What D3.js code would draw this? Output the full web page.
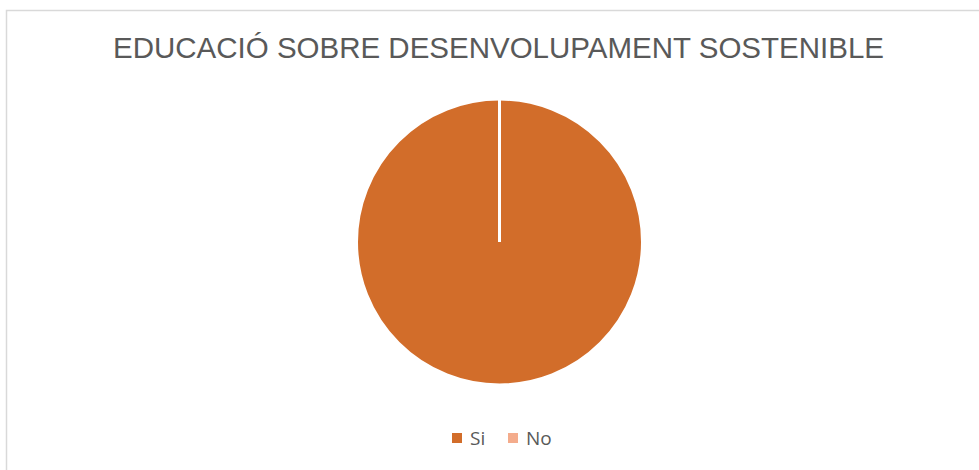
<!DOCTYPE html>
<html>
<head>
<meta charset="utf-8">
<script src="https://cdn.jsdelivr.net/npm/d3@7"></script>
<style>
  body { margin: 0; background: #fff; }
  svg { display: block; }
</style>
</head>
<body>
<svg class="chart"></svg>
<script>
const graphWidth = 979;
const graphHeight = 470;

// data
const categories = ['Si', 'No'];
const values = [100, 0];
const colors = ['#D26D2A', '#F4AC8C'];
const title = 'EDUCACIÓ SOBRE DESENVOLUPAMENT SOSTENIBLE';

const svg = d3
  .select('.chart')
  .attr('width', graphWidth)
  .attr('height', graphHeight);

// chart frame
svg
  .append('rect')
  .attr('x', 6.5)
  .attr('y', 10.5)
  .attr('width', 985)
  .attr('height', 480)
  .attr('fill', '#fff')
  .attr('stroke', '#D9D9D9')
  .attr('stroke-width', 1.5);

svg
  .append('text')
  .attr('x', 498.5)
  .attr('y', 57.5)
  .attr('text-anchor', 'middle')
  .style('font-family', 'Liberation Sans, Arial, sans-serif')
  .style('font-size', '29.5px')
  .style('fill', '#595959')
  .text(title);

const data = categories.map((c, i) => ({ name: c, value: values[i] }));
const radius = 143;

const pie = d3
  .pie()
  .sort(null)
  .value(d => d.value);

const arc = d3.arc().innerRadius(0).outerRadius(radius);

const g = svg.append('g').attr('transform', 'translate(499.5,242)');

g.selectAll('path')
  .data(pie(data))
  .enter()
  .append('path')
  .attr('d', arc)
  .attr('fill', (d, i) => colors[i])
  .attr('stroke', '#fff')
  .attr('stroke-width', 3);

// legend
const legendX = d3.scaleOrdinal().domain(categories).range([452, 508]);
const legend = svg
  .append('g')
  .selectAll('g')
  .data(data)
  .enter()
  .append('g')
  .attr('transform', d => 'translate(' + legendX(d.name) + ',433)');

legend
  .append('rect')
  .attr('width', 10)
  .attr('height', 10)
  .attr('fill', (d, i) => colors[i]);

legend
  .append('text')
  .attr('x', 18)
  .attr('y', 12)
  .style('font-family', 'Open Sans, sans-serif')
  .style('font-size', '19px')
  .style('fill', '#595959')
  .text(d => d.name);
</script>
</body>
</html>
